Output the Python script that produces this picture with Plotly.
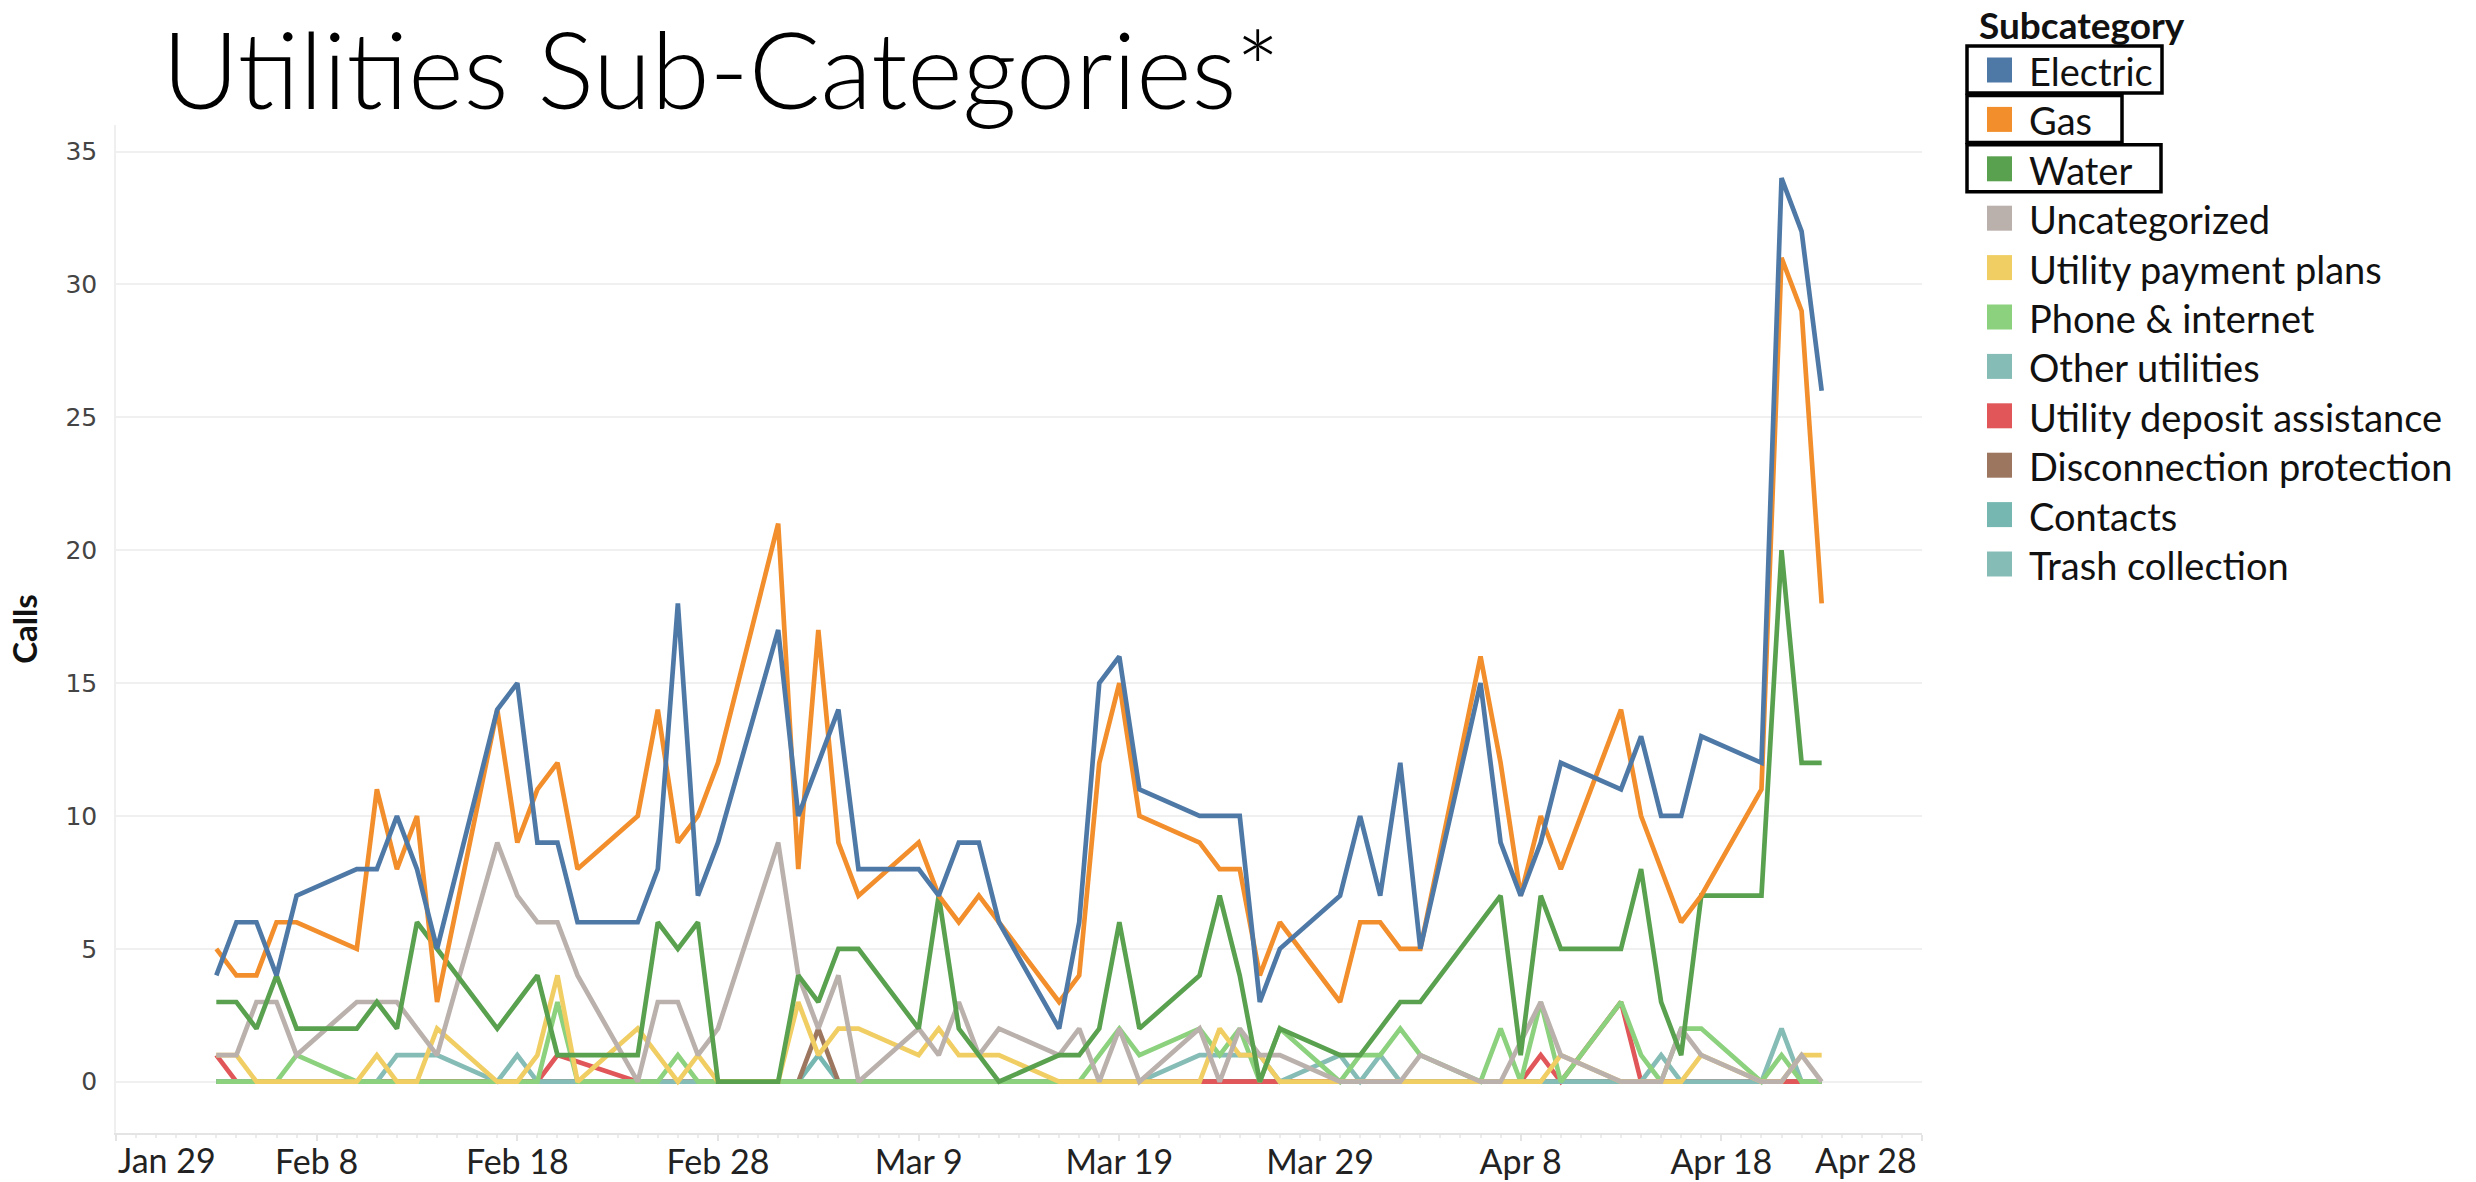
import pandas as pd
import plotly.graph_objects as go

# ---------------- data ----------------
dates = pd.bdate_range("2020-02-03", "2020-04-23")  # weekdays with calls

subcategories = ["Electric", "Gas", "Water", "Uncategorized", "Utility payment plans",
                 "Phone & internet", "Other utilities", "Utility deposit assistance",
                 "Disconnection protection", "Contacts", "Trash collection"]
colors = ["#4E79A7", "#F28E2B", "#59A14F", "#BAB0AC", "#F1CE63",
          "#8CD17D", "#86BCB6", "#E15759", "#9D7660", "#76B7B2", "#86BCB6"]

electric = [4, 6, 6, 4, 7, 8, 8, 10, 8, 5, 14, 15, 9, 9, 6, 6, 8, 18, 7, 9,
            17, 10, 12, 14, 8, 8, 7, 9, 9, 6, 2, 6, 15, 16, 11, 10, 10, 10, 3, 5,
            7, 10, 7, 12, 5, 15, 9, 7, 9, 12, 11, 13, 10, 10, 13, 12, 34, 32, 26]
gas = [5, 4, 4, 6, 6, 5, 11, 8, 10, 3, 14, 9, 11, 12, 8, 10, 14, 9, 10, 12,
       21, 8, 17, 9, 7, 9, 7, 6, 7, 6, 3, 4, 12, 15, 10, 9, 8, 8, 4, 6,
       3, 6, 6, 5, 5, 16, 12, 7, 10, 8, 14, 10, 8, 6, 7, 11, 31, 29, 18]
water = [3, 3, 2, 4, 2, 2, 3, 2, 6, 5, 2, 3, 4, 1, 1, 1, 6, 5, 6, 0,
         0, 4, 3, 5, 5, 2, 7, 2, 1, 0, 1, 1, 2, 6, 2, 4, 7, 4, 0, 2,
         1, 1, 2, 3, 3, 6, 7, 1, 7, 5, 5, 8, 3, 1, 7, 7, 20, 12, 12]
uncategorized = [1, 1, 3, 3, 1, 3, 3, 3, 2, 1, 9, 7, 6, 6, 4, 0, 3, 3, 1, 2,
                 9, 4, 2, 4, 0, 2, 1, 3, 1, 2, 1, 2, 0, 2, 0, 2, 0, 2, 1, 1,
                 0, 0, 0, 0, 1, 0, 0, None, 3, 1, 0, 0, 0, 2, 1, 0, 0, 1, 0]
payment_plans = [1, 1, 0, 0, 0, 0, 1, 0, 0, 2, 0, 0, 1, 4, 0, 2, 1, 0, 1, 0,
                 0, 3, 1, 2, 2, 1, 2, 1, 1, 1, 0, 0, 0, 0, 0, 0, 2, 1, 1, 0,
                 0, 0, 0, 0, 0, 0, 0, 0, 0, 1, 0, 0, 0, 0, 1, 0, 0, 1, 1]
phone_internet = [0, 0, 0, 0, 1, 0, 0, 0, 0, 0, 0, 0, 0, 3, 0, 0, 0, 1, 0, 0,
                  0, 0, 0, 0, 0, 0, 0, 0, 0, 0, 0, 0, 1, 2, 1, 2, 1, 2, 0, 2,
                  0, 1, 1, 2, 1, 0, 2, 0, 3, 0, 3, 1, 0, 2, 2, 0, 1, 0, 0]
other_utilities = [0, 0, 0, 0, 0, 0, 0, 1, 1, 1, 0, 1, 0, 0, 0, 0, 0, 0, 0, 0,
                   0, 0, 0, 0, 0, 0, 0, 0, 0, 0, 0, 0, 0, 0, 0, 1, 1, 1, 1, 0,
                   1, 0, 1, 0, 0, 0, 0, 0, 0, 0, 0, 0, 1, 0, 0, 0, 2, 0, 0]
deposit_assistance = [1, 0, 0, 0, 0, 0, 0, 0, 0, 0, 0, 0, 0, 1, None, 0, 0, 0, 0, 0,
                      0, 0, 0, 0, 0, 0, 0, 0, 0, 0, 0, 0, 0, 0, 0, 0, 0, 0, 0, 0,
                      0, 0, 0, 0, 0, 0, 0, 0, 1, 0, 3, 0, 0, 0, 0, 0, 0, 0, 0]
disconnection = [0, 0, 0, 0, 0, 0, 0, 0, 0, 0, 0, 0, 0, 0, 0, 0, 0, 0, 0, 0,
                 0, 0, 2, 0, 0, 0, 0, 0, 0, 0, 0, 0, 0, 0, 0, 0, 0, 0, 0, 0,
                 0, 0, 0, 0, 0, 0, 0, 0, 0, 0, 0, 0, 0, 0, 0, 0, 0, 0, 0]
contacts = [0, 0, 0, 0, 0, 0, 0, 0, 0, 0, 0, 0, 0, 0, 0, 0, 0, 0, 0, 0,
            0, 0, 1, 0, 0, 0, 0, 0, 0, 0, 0, 0, 0, 0, 0, 0, 0, 0, 0, 0,
            0, 0, 0, 0, 0, 0, 0, 0, 0, 0, 0, 0, 0, 0, 0, 0, 0, 0, 0]
trash = [0, 0, 0, 0, 0, 0, 0, 0, 0, 0, 0, 0, 0, 0, 0, 0, 0, 0, 0, 0,
         0, 0, 0, 0, 0, 0, 0, 0, 0, 0, 0, 0, 0, 0, 0, 0, 0, 0, 0, 0,
         0, 0, 0, 0, 0, 0, 0, 0, 0, 0, 0, 0, 0, 0, 0, 0, 0, 0, 0]

series = [electric, gas, water, uncategorized, payment_plans, phone_internet,
          other_utilities, deposit_assistance, disconnection, contacts, trash]

x_tick_dates = ["2020-01-29", "2020-02-08", "2020-02-18", "2020-02-28", "2020-03-09",
                "2020-03-19", "2020-03-29", "2020-04-08", "2020-04-18", "2020-04-28"]
x_tick_labels = ["Jan 29", "Feb 8", "Feb 18", "Feb 28", "Mar 9",
                 "Mar 19", "Mar 29", "Apr 8", "Apr 18", "Apr 28"]
y_ticks = [0, 5, 10, 15, 20, 25, 30, 35]
highlighted = ["Electric", "Gas", "Water"]

# ---------------- layout geometry (pixels) ----------------
W, H = 2476, 1182
L, R, T, B = 116, 1922, 125, 1133


def px(xp):
    return (xp - L) / (R - L)


def py(yp):
    return (B - yp) / (B - T)


fig = go.Figure()

# draw later legend items first so Electric ends up on top
for name, color, vals in reversed(list(zip(subcategories, colors, series))):
    fig.add_trace(go.Scatter(
        x=dates, y=vals, name=name, mode="lines",
        line=dict(color=color, width=4.7), connectgaps=True,
        showlegend=False,
    ))

shapes = []
annotations = []

# dotted zero line
shapes.append(dict(type="line", xref="paper", yref="y", x0=0, x1=1, y0=0, y1=0,
                   line=dict(color="#c4c4c4", width=1.5, dash="dot"), layer="below"))

# title
annotations.append(dict(text="Utilities Sub-Categories*", xref="paper", yref="paper",
                        x=px(160), y=py(2), xanchor="left", yanchor="top",
                        showarrow=False,
                        font=dict(family="Lato", size=106, weight=300, color="#000000")))

# edge tick labels (Tableau aligns them inside the axis)
tick_font = dict(family="Lato", size=34, color="#222222")
annotations.append(dict(text=x_tick_labels[0], xref="paper", yref="paper",
                        x=0, y=py(1159), xanchor="left", yanchor="middle", showarrow=False,
                        font=tick_font))
annotations.append(dict(text=x_tick_labels[-1], xref="paper", yref="paper",
                        x=px(1919), y=py(1159), xanchor="right", yanchor="middle",
                        showarrow=False, font=tick_font))

# manual legend
annotations.append(dict(text="<b>Subcategory</b>", xref="paper", yref="paper",
                        x=px(1977), y=py(25), xanchor="left", yanchor="middle",
                        showarrow=False,
                        font=dict(family="Lato", size=37, color="#111111")))
row0, step = 70, 49.4
for i, (name, color) in enumerate(zip(subcategories, colors)):
    cy = row0 + i * step
    shapes.append(dict(type="rect", xref="paper", yref="paper",
                       x0=px(1987), x1=px(2012), y0=py(cy - 12.5), y1=py(cy + 12.5),
                       fillcolor=color, line=dict(width=0)))
    annotations.append(dict(text=name, xref="paper", yref="paper",
                            x=px(2027), y=py(cy + 1), xanchor="left", yanchor="middle",
                            showarrow=False,
                            font=dict(family="Lato", size=38, color="#111111")))

box_right = {"Electric": 2162, "Gas": 2122, "Water": 2161}
for i, name in enumerate(highlighted):
    cy = row0 + i * step
    shapes.append(dict(type="rect", xref="paper", yref="paper",
                       x0=px(1967), x1=px(box_right[name]), y0=py(cy - 24), y1=py(cy + 23),
                       line=dict(color="#000000", width=3.5), fillcolor="rgba(0,0,0,0)"))

fig.update_layout(
    width=W, height=H, autosize=False,
    margin=dict(l=L, r=W - R, t=T, b=H - B, pad=0),
    paper_bgcolor="white", plot_bgcolor="white",
    shapes=shapes, annotations=annotations,
    showlegend=False,
    xaxis=dict(
        type="date", range=[x_tick_dates[0], x_tick_dates[-1]],
        tickvals=x_tick_dates,
        ticktext=[""] + x_tick_labels[1:-1] + [""],
        tickfont=tick_font, automargin=False,
        showgrid=False, zeroline=False,
        showline=True, linecolor="#e4e4e4", linewidth=1.5,
        ticks="outside", ticklen=6, tickcolor="#e4e4e4", tickwidth=1.5,
        ticklabelstandoff=-8,
        minor=dict(dtick=86400000, tick0="2020-01-29", ticks="outside",
                   ticklen=3, tickcolor="#ececec", showgrid=False),
    ),
    yaxis=dict(
        range=[-1.93, 36.0], tickvals=y_ticks, automargin=False,
        tickfont=dict(family="DejaVu Sans", size=25, color="#444444"),
        showgrid=True, gridcolor="#f0f0f0", gridwidth=1.5,
        zeroline=False, showline=True, linecolor="#efefef", linewidth=1.5,
        ticks="", ticklabelstandoff=12,
        title=dict(text="<b>Calls</b>", standoff=18,
                   font=dict(family="Lato", size=33, color="#111111")),
    ),
)

fig.write_html("out.html")
